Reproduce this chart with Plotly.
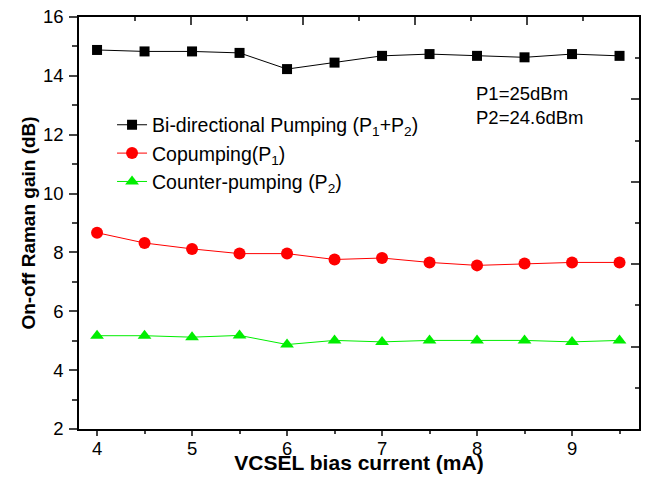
import plotly.graph_objects as go

current_ma = [4.0, 4.5, 5.0, 5.5, 6.0, 6.5, 7.0, 7.5, 8.0, 8.5, 9.0, 9.5]
bidirectional = [14.88, 14.83, 14.83, 14.78, 14.23, 14.45, 14.68, 14.74, 14.68, 14.63, 14.74, 14.68]
copumping = [8.67, 8.32, 8.12, 7.96, 7.96, 7.76, 7.81, 7.66, 7.56, 7.62, 7.66, 7.66]
counterpumping = [5.17, 5.17, 5.12, 5.18, 4.87, 5.01, 4.96, 5.01, 5.01, 5.01, 4.96, 5.01]

names = ["Bi-directional Pumping (P<sub>1</sub>+P<sub>2</sub>)",
         "Copumping(P<sub>1</sub>)",
         "Counter-pumping (P<sub>2</sub>)"]

FONT = "Liberation Sans, Arial, sans-serif"

fig = go.Figure()
fig.add_trace(go.Scatter(x=current_ma, y=bidirectional, name=names[0], mode="lines+markers",
                         line=dict(color="black", width=1),
                         marker=dict(symbol="square", size=10, color="black")))
fig.add_trace(go.Scatter(x=current_ma, y=copumping, name=names[1], mode="lines+markers",
                         line=dict(color="#ff0000", width=1),
                         marker=dict(symbol="circle", size=12, color="#ff0000")))
fig.add_trace(go.Scatter(x=current_ma, y=counterpumping, name=names[2], mode="lines+markers",
                         line=dict(color="#00ee00", width=1),
                         marker=dict(symbol="triangle-up", size=12, color="#00ee00")))
fig.add_trace(go.Scatter(x=[], y=[], xaxis="x2", yaxis="y2", showlegend=False, hoverinfo="skip"))

fig.update_layout(
    width=644, height=466,
    margin=dict(l=71, r=13, t=9, b=45),
    paper_bgcolor="white", plot_bgcolor="white",
    font=dict(family=FONT, size=18, color="black"),
    showlegend=True,
    legend=dict(x=0.059, y=0.785, xanchor="left", yanchor="top",
                bgcolor="rgba(0,0,0,0)", font=dict(size=19.5), tracegroupgap=0,
                itemsizing="trace"),
    xaxis=dict(range=[3.81, 9.705], tick0=4, dtick=1, ticks="outside", ticklen=5, tickwidth=1.5,
               showline=True, linewidth=1.5, linecolor="black", showgrid=False, zeroline=False,
               automargin=False, ticklabelstandoff=-3, ticklabeloverflow="allow",
               minor=dict(ticks="outside", ticklen=3, tickwidth=1.5, dtick=0.5, tick0=4),
               tickfont=dict(size=18.5),
               title=dict(text="<b>VCSEL bias current (mA)</b>", font=dict(size=21), standoff=1)),
    yaxis=dict(range=[2, 16], tick0=2, dtick=2, ticks="outside", ticklen=8, tickwidth=1.5,
               showline=True, linewidth=1.5, linecolor="black", showgrid=False, zeroline=False,
               automargin=False, ticklabelstandoff=2, ticklabeloverflow="allow",
               minor=dict(ticks="outside", ticklen=5, tickwidth=1.5, dtick=1, tick0=2),
               tickfont=dict(size=18.5),
               title=dict(text="<b>On-off Raman gain (dB)</b>", font=dict(size=19), standoff=2)),
    xaxis2=dict(overlaying="x", side="top", anchor="y2", range=[0, 10], tick0=0, dtick=2,
                ticks="inside", ticklen=8, tickwidth=1.5, showticklabels=False, automargin=False,
                showline=True, linewidth=1.5, linecolor="black", showgrid=False, zeroline=False,
                minor=dict(ticks="inside", ticklen=4, tickwidth=1.5, dtick=1)),
    yaxis2=dict(overlaying="y", side="right", anchor="x2", range=[0, 10], tick0=0, dtick=2,
                ticks="inside", ticklen=8, tickwidth=1.5, showticklabels=False, automargin=False,
                showline=True, linewidth=1.5, linecolor="black", showgrid=False, zeroline=False,
                minor=dict(ticks="inside", ticklen=4, tickwidth=1.5, dtick=1)),
    annotations=[
        dict(text="P1=25dBm<br>P2=24.6dBm", xref="paper", yref="paper", x=0.706, y=0.845,
             xanchor="left", yanchor="top", showarrow=False, align="left",
             font=dict(size=18.5, family=FONT)),
    ],
)

fig.write_html("out.html")
